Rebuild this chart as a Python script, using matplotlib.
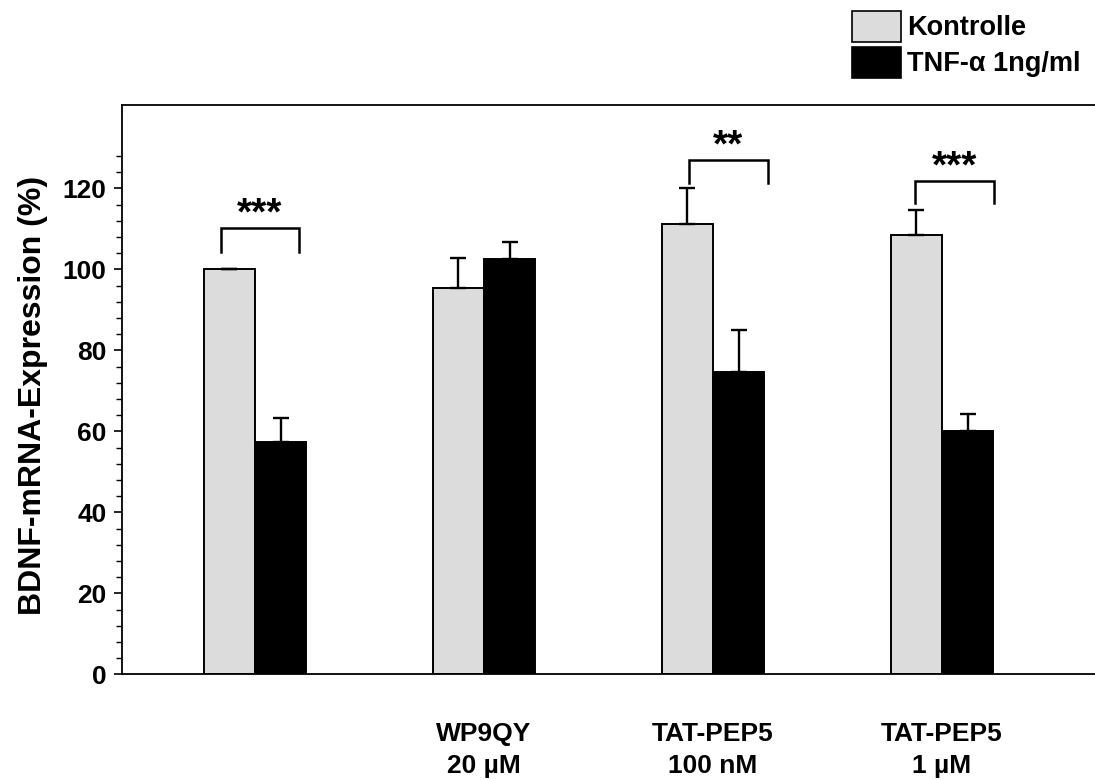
import matplotlib
matplotlib.use("Agg")
import matplotlib.pyplot as plt
from matplotlib.patches import Patch
import numpy as np

plt.rcParams['font.family'] = ['Liberation Sans', 'DejaVu Sans']
plt.rcParams['font.weight'] = 'bold'

## values (BDNF mRNA, % of control)
groups = ['', 'WP9QY\n20 µM', 'TAT-PEP5\n100 nM', 'TAT-PEP5\n1 µM']
kontrolle = [100.0, 95.5, 111.1, 108.6]
kontrolle_err = [0.0, 7.2, 9.0, 6.0]
tnf = [57.3, 102.5, 74.6, 60.1]
tnf_err = [5.9, 4.2, 10.5, 4.2]
series_names = ['Kontrolle', 'TNF-\u03b1 1ng/ml']

## significance brackets: group, left/right offset, bar top, leg end, stars
sig_group = [0, 2, 3]
sig_left = [-0.148, -0.105, -0.118]
sig_right = [0.192, 0.240, 0.228]
sig_top = [110.2, 127.1, 121.8]
sig_low = [104.3, 121.4, 116.3]
sig_text = ['***', '**', '***']

fig = plt.figure(figsize=(10.95, 7.8), dpi=100)
ax = fig.add_axes([122/1095, 1 - 674.3/780, 1 - 122/1095, (674.3 - 105)/780])

x = np.arange(len(groups))
w = 0.224
err_kw = dict(elinewidth=1.7, capsize=6, capthick=1.7, ecolor='black')
ax.bar(x - w/2, kontrolle, w, color='#dcdcdc', edgecolor='black', linewidth=1.4,
       yerr=[np.zeros(len(x)), kontrolle_err], error_kw=err_kw, zorder=2)
ax.bar(x + w/2, tnf, w, color='black', edgecolor='black', linewidth=1.4,
       yerr=[np.zeros(len(x)), tnf_err], error_kw=err_kw, zorder=2)

for g, l, r, t, lo, s in zip(sig_group, sig_left, sig_right, sig_top, sig_low, sig_text):
    ax.plot([g + l, g + l, g + r, g + r], [lo, t, t, lo], color='black', lw=1.8,
            solid_joinstyle='miter', zorder=3)
    ax.text(g + (l + r)/2, t + 0.9, s, ha='center', va='baseline', fontsize=28,
            fontweight='bold')

ax.set_xlim(-0.581, 3.668)
ax.set_ylim(0, 140.6)
ax.set_xticks(x)
ax.set_xticklabels(groups, fontsize=19, fontweight='bold', linespacing=1.45)
ax.tick_params(axis='x', length=0, pad=34)
ax.set_yticks(np.arange(0, 121, 20))
ax.set_yticks([v for v in range(4, 129, 4) if v % 20 != 0], minor=True)
ax.tick_params(axis='y', which='major', length=6, width=1.2, labelsize=19, pad=5)
ax.tick_params(axis='y', which='minor', length=4, width=1.0)
for lab in ax.get_yticklabels():
    lab.set_fontweight('bold')
ax.set_ylabel('BDNF-mRNA-Expression (%)', fontsize=23, fontweight='bold')
ax.yaxis.set_label_coords(-0.076, 0.49)

ax.spines['right'].set_visible(False)
for sp in ['left', 'bottom', 'top']:
    ax.spines[sp].set_linewidth(1.3)

handles = [Patch(facecolor='#dcdcdc', edgecolor='black', linewidth=1.2),
           Patch(facecolor='black', edgecolor='black', linewidth=1.2)]
fig.legend(handles, series_names, loc='upper left', bbox_to_anchor=(852/1095, 1 - 11/780),
           frameon=False, prop={'weight': 'bold', 'size': 19.5},
           handlelength=1.8, handleheight=1.37, handletextpad=0.22,
           labelspacing=0.19, borderpad=0, borderaxespad=0)

fig.savefig('out.png', dpi=100)
